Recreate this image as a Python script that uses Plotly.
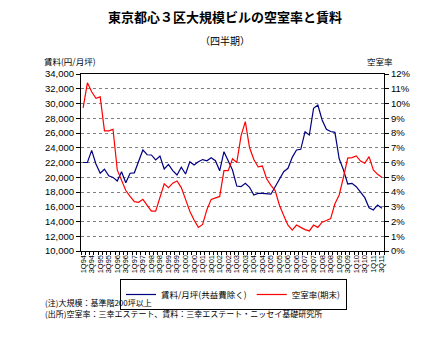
import plotly.graph_objects as go

# ---------------- data ----------------
quarters = [f"{q}Q{y % 100:02d}" for y in range(1994, 2012) for q in range(1, 5)][:71]

rent = [22000, 22000, 23650, 21800, 20550, 21080, 20200, 19980, 19490, 20750,
        19260, 20540, 20600, 22100, 23700, 23050, 23020, 22340, 22880, 21120,
        21750, 20900, 20300, 21350, 20440, 22110, 21660, 22100, 22400, 22230,
        22650, 22250, 20870, 23470, 22100, 20980, 18810, 18720, 19180, 18640,
        17590, 17820, 17820, 17730, 17700, 18720, 19800, 20750, 21210, 22700,
        23700, 23790, 26180, 25730, 29350, 29800, 27770, 26500, 26200, 26090,
        22500, 21000, 19090, 19180, 18720, 18040, 17230, 15870, 15560, 16240,
        15790]

vacancy = [9.7, 11.4, 10.8, 10.35, 10.45, 8.15, 8.15, 8.25, 5.5, 4.8,
           4.1, 3.7, 3.35, 3.3, 3.5, 3.1, 2.7, 2.7, 3.6, 4.55,
           4.3, 4.6, 4.75, 4.3, 3.5, 2.7, 2.1, 1.6, 1.8, 2.8,
           3.5, 3.6, 3.7, 5.45, 5.45, 6.25, 6.0, 7.8, 8.77, 7.0,
           6.2, 5.7, 5.76, 4.9, 4.45, 4.1, 3.1, 2.4, 1.75, 1.42,
           1.76, 1.6, 1.45, 1.36, 1.76, 1.6, 1.95, 2.07, 2.2, 3.2,
           3.8, 5.0, 6.3, 6.33, 6.45, 6.1, 5.95, 6.4, 5.5, 5.2,
           5.0]

rent_ticks = list(range(10000, 34001, 2000))
vac_ticks = list(range(0, 13))
x_ticktext = [q if i % 2 == 0 else "" for i, q in enumerate(quarters)]

title_text = "東京都心３区大規模ビルの空室率と賃料"
subtitle_text = "（四半期）"
left_title = "賃料(円/月坪)"
right_title = "空室率"
rent_name = "賃料/月坪(共益費除く)"
vac_name = "空室率(期末)"
note1 = "(注)大規模：基準階200坪以上"
note2 = "(出所)空室率：三幸エステート、賃料：三幸エステート・ニッセイ基礎研究所"

# ---------------- layout geometry ----------------
W, H = 435, 343
L, R, T, B = 81, 51, 74, 92
PW, PH = W - L - R, H - T - B


def px(x):
    return (x - L) / PW


def py(y):
    return (H - B - y) / PH


JP = "Noto Sans CJK JP"
NUM = "Liberation Sans"

fig = go.Figure()
fig.add_trace(go.Scatter(x=quarters, y=rent, name=rent_name, mode="lines",
                         line=dict(color="#000080", width=1.2), yaxis="y"))
fig.add_trace(go.Scatter(x=quarters, y=vacancy, name=vac_name, mode="lines",
                         line=dict(color="#FF0000", width=1.2), yaxis="y2"))

fig.update_layout(
    width=W, height=H,
    margin=dict(l=L, r=R, t=T, b=B),
    paper_bgcolor="white", plot_bgcolor="white",
    showlegend=True,
    legend=dict(orientation="h", x=px(120), xanchor="left", y=py(279), yanchor="top",
                bordercolor="black", borderwidth=1, font=dict(family=JP, size=8.5, color="black"),
                itemwidth=30, tracegroupgap=0, bgcolor="white"),
    xaxis=dict(type="category", range=[-0.5, len(quarters) - 0.5],
               tickmode="array", tickvals=quarters, ticktext=x_ticktext,
               tickson="boundaries", ticks="outside", ticklen=3, tickcolor="black",
               tickangle=-90, tickfont=dict(family=NUM, size=7.5, color="black"),
               showline=True, linecolor="black", linewidth=1, mirror=True,
               showgrid=False, zeroline=False),
    yaxis=dict(range=[10000, 34000], tickmode="array", tickvals=rent_ticks,
               ticktext=[f"{v:,}" for v in rent_ticks],
               ticks="outside", ticklen=4, tickcolor="black",
               tickfont=dict(family=NUM, size=9.5, color="black"),
               showline=True, linecolor="black", linewidth=1,
               showgrid=True, gridcolor="#808080", griddash="dot", gridwidth=1,
               zeroline=False),
    yaxis2=dict(range=[0, 12], overlaying="y", side="right", tickmode="array",
                tickvals=vac_ticks, ticktext=[f"{v}%" for v in vac_ticks],
                ticks="outside", ticklen=4, tickcolor="black",
                tickfont=dict(family=NUM, size=9.5, color="black"),
                showline=True, linecolor="black", linewidth=1,
                showgrid=False, zeroline=False),
)

ann = [
    dict(text=f"<b>{title_text}</b>", x=px(225), y=py(17), font=dict(family=JP, size=13)),
    dict(text=subtitle_text, x=px(225), y=py(40), font=dict(family=JP, size=10)),
    dict(text=left_title, x=px(70), y=py(61), font=dict(family=JP, size=8.5)),
    dict(text=right_title, x=px(380), y=py(61), font=dict(family=JP, size=8.5)),
    dict(text=note1, x=px(43), y=py(302), xanchor="left", font=dict(family=JP, size=8)),
    dict(text=note2, x=px(43), y=py(313), xanchor="left", font=dict(family=JP, size=8)),
]
for a in ann:
    a.setdefault("xanchor", "center")
    a.update(xref="paper", yref="paper", yanchor="middle", showarrow=False)
    a["font"]["color"] = "black"
fig.update_layout(annotations=ann)

fig.write_html("out.html")
